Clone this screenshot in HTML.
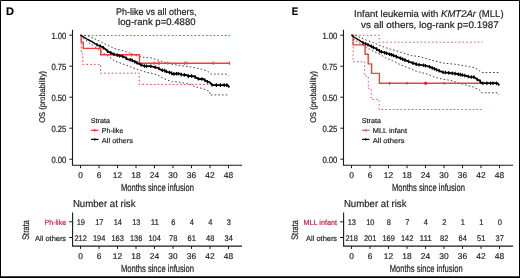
<!DOCTYPE html>
<html><head><meta charset="utf-8"><style>
html,body{margin:0;padding:0;background:#fff;}
body{width:520px;height:278px;overflow:hidden;}
svg{display:block;font-family:"Liberation Sans", sans-serif;text-rendering:geometricPrecision;will-change:transform;}
.w{stroke:#222;stroke-width:0.2px;}
</style></head><body>
<svg width="520" height="278" viewBox="0 0 520 278">
<rect x="0" y="0" width="520" height="278" fill="#fff"/>
<polyline points="80.5,35.5 230.0,35.5" fill="none" stroke="#f04848" stroke-width="1.0" stroke-dasharray="1.7 2.1"/>
<polyline points="81.3,35.2 81.3,53.8 82.8,53.8 82.8,64.4 100.6,64.4 100.6,73.2 139.3,73.2 139.3,84.4 229.0,84.4" fill="none" stroke="#f04848" stroke-width="1.0" stroke-dasharray="1.7 2.1"/>
<polyline points="80.5,35.2 87.7,35.8 94.2,38.5 99.6,41.2 106.0,44.4 113.6,48.2 117.0,49.3 125.8,51.5 136.6,55.8 143.0,57.2 151.0,57.9 158.6,60.2 166.2,62.9 173.7,64.6 181.3,65.6 187.7,66.7 194.7,67.6 201.2,69.2 207.7,71.2 210.9,74.1 227.1,74.1 228.7,75.7" fill="none" stroke="#444" stroke-width="1.0" stroke-dasharray="1.6 2.1"/>
<polyline points="80.5,35.2 84.5,39.0 88.8,42.8 94.2,46.0 98.5,49.8 103.9,53.6 109.3,56.8 114.8,61.1 125.8,65.0 136.6,69.3 147.3,72.5 151.0,73.2 157.5,74.9 161.9,77.5 167.3,80.2 172.6,81.6 178.0,81.9 182.3,82.9 186.7,83.5 189.9,84.2 194.7,86.6 201.2,88.2 206.0,90.0 209.8,91.5 209.8,94.9 227.5,94.9 228.5,96.5" fill="none" stroke="#444" stroke-width="1.0" stroke-dasharray="1.6 2.1"/>
<polyline points="80.5,35.2 81.2,35.2 81.2,42.1 83.3,42.1 83.3,48.4 100.7,48.4 100.7,54.8 139.5,54.8 139.5,63.2 230.0,63.2" fill="none" stroke="#ff3838" stroke-width="1.4"/>
<line x1="131.7" y1="53.199999999999996" x2="131.7" y2="56.4" stroke="#ff3838" stroke-width="1.1"/>
<line x1="154.1" y1="61.6" x2="154.1" y2="64.8" stroke="#ff3838" stroke-width="1.1"/>
<line x1="158.1" y1="61.6" x2="158.1" y2="64.8" stroke="#ff3838" stroke-width="1.1"/>
<line x1="159.2" y1="61.6" x2="159.2" y2="64.8" stroke="#ff3838" stroke-width="1.1"/>
<line x1="167.8" y1="61.6" x2="167.8" y2="64.8" stroke="#ff3838" stroke-width="1.1"/>
<line x1="184.5" y1="61.6" x2="184.5" y2="64.8" stroke="#ff3838" stroke-width="1.1"/>
<line x1="186.7" y1="61.6" x2="186.7" y2="64.8" stroke="#ff3838" stroke-width="1.1"/>
<line x1="213.3" y1="61.6" x2="213.3" y2="64.8" stroke="#ff3838" stroke-width="1.1"/>
<line x1="229.5" y1="61.6" x2="229.5" y2="64.8" stroke="#ff3838" stroke-width="1.1"/>
<polyline points="80.5,35.2 84.5,37.6 87.7,39.5 92.0,41.7 95.3,43.9 98.0,45.2 100.9,46.3" fill="none" stroke="#000" stroke-width="1.45" stroke-linejoin="round"/>
<polyline points="100.9,46.3 103.8,48.1 105.9,49.6 108.1,51.7 111.0,52.8 113.8,54.2 116.7,55.0 119.6,55.7 122.5,56.4 125.3,57.5 127.5,59.2 128.0,59.4 130.9,59.8 133.0,60.8 135.2,61.9 138.1,63.4 140.9,64.8 143.8,65.9 146.7,66.2 149.6,66.1 152.5,66.6 155.3,67.3 158.2,68.0 160.0,69.2 161.7,70.1 164.0,70.3 166.3,71.5 168.7,72.4 171.0,72.7 172.4,74.0 175.0,73.8 179.6,73.6 181.4,74.7 186.5,75.0 188.0,76.1 190.9,75.9 194.5,76.5 196.6,77.9 198.8,79.0 203.1,79.0 205.3,80.4 206.7,81.5 209.6,82.2 211.7,84.7 213.2,85.1 227.6,85.1 229.3,87.6" fill="none" stroke="#000" stroke-width="1.8" stroke-linejoin="round"/>
<path d="M97.0,42.9v3.6 M100.0,44.2v3.6 M103.3,46.0v3.6 M107.6,49.4v3.6 M110.7,50.9v3.6 M113.9,52.4v3.6 M117.2,53.3v3.6 M119.5,53.9v3.6 M122.7,54.7v3.6 M126.2,56.4v3.6 M130.2,57.9v3.6 M132.2,58.6v3.6 M134.8,59.9v3.6 M136.9,61.0v3.6 M140.9,63.0v3.6 M144.5,64.2v3.6 M146.5,64.4v3.6 M150.9,64.5v3.6 M155.3,65.5v3.6 M158.9,66.7v3.6 M162.3,68.4v3.6 M164.6,68.8v3.6 M166.4,69.7v3.6 M169.6,70.7v3.6 M171.6,71.4v3.6 M173.9,72.1v3.6 M176.4,71.9v3.6 M178.2,71.9v3.6 M181.3,72.8v3.6 M184.3,73.1v3.6 M188.4,74.3v3.6 M191.6,74.2v3.6 M195.1,75.1v3.6 M198.2,76.9v3.6 M201.8,77.2v3.6 M204.9,78.3v3.6 M207.4,79.9v3.6 M211.9,83.0v3.6 M216.4,83.3v3.6 M220.5,83.3v3.6 M224.2,83.3v3.6 M226.8,83.3v3.6" stroke="#000" stroke-width="1.2" fill="none"/>
<polyline points="351.5,35.3 379.3,35.3 379.3,42.2 482.5,42.2" fill="none" stroke="#e0607a" stroke-width="1.0" stroke-dasharray="1.7 2.1"/>
<polyline points="353.1,35.2 353.1,61.7 364.7,61.7 364.7,76.0 368.3,76.0 368.3,88.3 371.3,88.3 371.3,99.4 379.2,99.4 379.2,109.5 481.8,109.5" fill="none" stroke="#e0607a" stroke-width="1.0" stroke-dasharray="1.7 2.1"/>
<polyline points="351.5,35.2 355.8,35.4 361.2,38.1 366.6,40.2 373.0,42.4 379.3,45.2 385.8,47.7 392.3,49.7 398.7,51.5 405.2,53.6 411.7,55.6 420.0,56.7 431.5,60.2 443.1,63.1 454.6,64.2 466.1,66.0 474.2,67.7 477.7,69.4 481.5,72.5 498.6,72.5 499.5,73.9" fill="none" stroke="#444" stroke-width="1.0" stroke-dasharray="1.6 2.1"/>
<polyline points="351.5,35.2 354.7,40.2 361.2,44.0 366.6,47.8 373.0,51.0 380.4,54.6 385.8,57.9 392.3,60.6 398.7,63.9 405.2,66.6 411.7,69.3 416.2,71.2 426.9,73.9 435.0,77.3 443.1,79.3 450.0,80.2 464.4,84.7 473.4,87.1 479.7,90.1 481.5,92.8 497.7,92.8 499.0,95.0" fill="none" stroke="#444" stroke-width="1.0" stroke-dasharray="1.6 2.1"/>
<polyline points="351.5,35.2 353.1,35.2 353.1,44.9 365.1,44.9 365.1,54.3 368.2,54.3 368.2,63.9 371.6,63.9 371.6,73.4 379.4,73.4 379.4,83.2 482.0,83.2" fill="none" stroke="#dd4a3a" stroke-width="1.4"/>
<line x1="389.6" y1="81.9" x2="389.6" y2="84.5" stroke="#f02020" stroke-width="1.1"/>
<line x1="407" y1="81.9" x2="407" y2="84.5" stroke="#f02020" stroke-width="1.1"/>
<line x1="444" y1="81.9" x2="444" y2="84.5" stroke="#f02020" stroke-width="1.1"/>
<ellipse cx="425.6" cy="83.2" rx="1.2" ry="1.7" fill="#ff0000"/>
<polyline points="351.5,35.2 354.7,37.5 359.0,40.2 363.3,42.9 367.6,44.6" fill="none" stroke="#000" stroke-width="1.45" stroke-linejoin="round"/>
<polyline points="367.6,44.6 372.0,46.7 375.5,48.3 380.0,51.3 386.3,53.2 392.6,55.1 398.9,57.6 405.2,60.2 411.5,62.7 417.8,64.6 424.1,65.4 430.0,66.9 431.5,67.7 437.3,70.0 443.1,72.3 448.8,72.9 454.6,73.5 460.4,74.6 466.1,75.8 469.6,76.9 474.2,77.1 477.7,79.8 479.7,80.4 481.2,83.2 497.3,83.2 499.3,85.4" fill="none" stroke="#000" stroke-width="1.8" stroke-linejoin="round"/>
<path d="M363.0,40.9v3.6 M365.7,42.0v3.6 M367.9,42.9v3.6 M371.4,44.6v3.6 M373.4,45.6v3.6 M376.7,47.3v3.6 M379.5,49.1v3.6 M381.4,49.9v3.6 M384.6,50.9v3.6 M386.5,51.5v3.6 M389.5,52.4v3.6 M391.5,53.0v3.6 M393.5,53.7v3.6 M396.4,54.8v3.6 M400.5,56.5v3.6 M402.6,57.3v3.6 M405.0,58.3v3.6 M408.5,59.7v3.6 M412.9,61.3v3.6 M416.2,62.3v3.6 M419.1,63.0v3.6 M423.5,63.5v3.6 M425.5,63.9v3.6 M429.6,65.0v3.6 M432.2,66.2v3.6 M434.4,67.0v3.6 M436.5,67.9v3.6 M439.1,68.9v3.6 M443.1,70.5v3.6 M445.4,70.7v3.6 M448.8,71.1v3.6 M452.3,71.5v3.6 M455.1,71.8v3.6 M458.4,72.4v3.6 M460.3,72.8v3.6 M462.3,73.2v3.6 M464.7,73.7v3.6 M468.3,74.7v3.6 M471.3,75.2v3.6 M473.9,75.3v3.6 M477.3,77.7v3.6 M480.3,79.7v3.6 M482.9,81.4v3.6 M486.9,81.4v3.6 M490.5,81.4v3.6 M493.0,81.4v3.6 M496.4,81.4v3.6" stroke="#000" stroke-width="1.2" fill="none"/>
<path d="M72.5,29.7 V165.2 H242" fill="none" stroke="#1a1a1a" stroke-width="1.1"/>
<line x1="69.3" y1="35.2" x2="72.5" y2="35.2" stroke="#1a1a1a" stroke-width="1"/>
<text x="66.4" y="38.5" text-anchor="end" font-size="9.1" fill="#222" class="w" textLength="15.0" lengthAdjust="spacingAndGlyphs">1.00</text>
<line x1="69.3" y1="66.2" x2="72.5" y2="66.2" stroke="#1a1a1a" stroke-width="1"/>
<text x="66.4" y="69.5" text-anchor="end" font-size="9.1" fill="#222" class="w" textLength="15.0" lengthAdjust="spacingAndGlyphs">0.75</text>
<line x1="69.3" y1="97.2" x2="72.5" y2="97.2" stroke="#1a1a1a" stroke-width="1"/>
<text x="66.4" y="100.5" text-anchor="end" font-size="9.1" fill="#222" class="w" textLength="15.0" lengthAdjust="spacingAndGlyphs">0.50</text>
<line x1="69.3" y1="128.2" x2="72.5" y2="128.2" stroke="#1a1a1a" stroke-width="1"/>
<text x="66.4" y="131.5" text-anchor="end" font-size="9.1" fill="#222" class="w" textLength="15.0" lengthAdjust="spacingAndGlyphs">0.25</text>
<line x1="69.3" y1="159.2" x2="72.5" y2="159.2" stroke="#1a1a1a" stroke-width="1"/>
<text x="66.4" y="162.5" text-anchor="end" font-size="9.1" fill="#222" class="w" textLength="15.0" lengthAdjust="spacingAndGlyphs">0.00</text>
<line x1="80.5" y1="165.2" x2="80.5" y2="168.2" stroke="#1a1a1a" stroke-width="1"/>
<text stroke="#222" stroke-width="0.18" x="80.5" y="178.0" text-anchor="middle" font-size="8.4" fill="#222">0</text>
<line x1="99.0" y1="165.2" x2="99.0" y2="168.2" stroke="#1a1a1a" stroke-width="1"/>
<text stroke="#222" stroke-width="0.18" x="99.0" y="178.0" text-anchor="middle" font-size="8.4" fill="#222">6</text>
<line x1="117.5" y1="165.2" x2="117.5" y2="168.2" stroke="#1a1a1a" stroke-width="1"/>
<text stroke="#222" stroke-width="0.18" x="117.5" y="178.0" text-anchor="middle" font-size="8.4" fill="#222">12</text>
<line x1="136.0" y1="165.2" x2="136.0" y2="168.2" stroke="#1a1a1a" stroke-width="1"/>
<text stroke="#222" stroke-width="0.18" x="136.0" y="178.0" text-anchor="middle" font-size="8.4" fill="#222">18</text>
<line x1="154.5" y1="165.2" x2="154.5" y2="168.2" stroke="#1a1a1a" stroke-width="1"/>
<text stroke="#222" stroke-width="0.18" x="154.5" y="178.0" text-anchor="middle" font-size="8.4" fill="#222">24</text>
<line x1="173.0" y1="165.2" x2="173.0" y2="168.2" stroke="#1a1a1a" stroke-width="1"/>
<text stroke="#222" stroke-width="0.18" x="173.0" y="178.0" text-anchor="middle" font-size="8.4" fill="#222">30</text>
<line x1="191.5" y1="165.2" x2="191.5" y2="168.2" stroke="#1a1a1a" stroke-width="1"/>
<text stroke="#222" stroke-width="0.18" x="191.5" y="178.0" text-anchor="middle" font-size="8.4" fill="#222">36</text>
<line x1="210.0" y1="165.2" x2="210.0" y2="168.2" stroke="#1a1a1a" stroke-width="1"/>
<text stroke="#222" stroke-width="0.18" x="210.0" y="178.0" text-anchor="middle" font-size="8.4" fill="#222">42</text>
<line x1="228.5" y1="165.2" x2="228.5" y2="168.2" stroke="#1a1a1a" stroke-width="1"/>
<text stroke="#222" stroke-width="0.18" x="228.5" y="178.0" text-anchor="middle" font-size="8.4" fill="#222">48</text>
<text x="157.4" y="190.8" text-anchor="middle" font-size="10.3" fill="#222" class="w" textLength="73" lengthAdjust="spacingAndGlyphs">Months since infusion</text>
<text transform="translate(44.9,96.8) rotate(-90)" text-anchor="middle" font-size="8.4" fill="#222" class="w" textLength="51.8" lengthAdjust="spacingAndGlyphs">OS (probability)</text>
<text stroke="#222" stroke-width="0.18" x="115.9" y="14.6" font-size="9.7" fill="#222" textLength="80.6" lengthAdjust="spacingAndGlyphs">Ph-like vs all others,</text>
<text stroke="#222" stroke-width="0.18" x="118.1" y="25.0" font-size="9.7" fill="#222" textLength="77.5" lengthAdjust="spacingAndGlyphs">log-rank p=0.4880</text>
<text stroke="#000" stroke-width="0.18" x="6" y="14.8" font-size="11" font-weight="bold" fill="#000" textLength="8" lengthAdjust="spacingAndGlyphs">D</text>
<text stroke="#222" stroke-width="0.18" x="90.8" y="123.3" font-size="7" fill="#222" textLength="19.1" lengthAdjust="spacingAndGlyphs">Strata</text>
<line x1="91.1" y1="130.3" x2="98.5" y2="130.3" stroke="#ff2020" stroke-width="1.2"/>
<line x1="94.8" y1="129" x2="94.8" y2="131.6" stroke="#ff2020" stroke-width="1"/>
<line x1="91.1" y1="139.4" x2="98.5" y2="139.4" stroke="#000" stroke-width="1.2"/>
<line x1="94.8" y1="138.1" x2="94.8" y2="140.7" stroke="#000" stroke-width="1"/>
<text stroke="#222" stroke-width="0.18" x="101.8" y="133.3" font-size="7" fill="#222" textLength="21.5" lengthAdjust="spacingAndGlyphs">Ph-like</text>
<text stroke="#222" stroke-width="0.18" x="101.8" y="142.6" font-size="7" fill="#222" textLength="31.1" lengthAdjust="spacingAndGlyphs">All others</text>
<text stroke="#222" stroke-width="0.18" x="72.9" y="206.8" font-size="10.2" fill="#222" textLength="62.6" lengthAdjust="spacingAndGlyphs">Number at risk</text>
<path d="M72.6,212.5 V246.1 H242.1" fill="none" stroke="#1a1a1a" stroke-width="1.1"/>
<line x1="69.1" y1="221.8" x2="72.5" y2="221.8" stroke="#1a1a1a" stroke-width="1"/>
<line x1="69.1" y1="237.5" x2="72.5" y2="237.5" stroke="#1a1a1a" stroke-width="1"/>
<line x1="80.5" y1="246.1" x2="80.5" y2="248.9" stroke="#1a1a1a" stroke-width="1"/>
<text stroke="#222" stroke-width="0.18" x="80.5" y="259.0" text-anchor="middle" font-size="8.4" fill="#222">0</text>
<text stroke="#222" stroke-width="0.18" x="80.8" y="224.7" text-anchor="middle" font-size="8.2" fill="#222" textLength="8.30" lengthAdjust="spacingAndGlyphs">19</text>
<text stroke="#222" stroke-width="0.18" x="80.7" y="240.6" text-anchor="middle" font-size="8.2" fill="#222" textLength="12.45" lengthAdjust="spacingAndGlyphs">212</text>
<line x1="99.0" y1="246.1" x2="99.0" y2="248.9" stroke="#1a1a1a" stroke-width="1"/>
<text stroke="#222" stroke-width="0.18" x="99.0" y="259.0" text-anchor="middle" font-size="8.4" fill="#222">6</text>
<text stroke="#222" stroke-width="0.18" x="99.3" y="224.7" text-anchor="middle" font-size="8.2" fill="#222" textLength="8.30" lengthAdjust="spacingAndGlyphs">17</text>
<text stroke="#222" stroke-width="0.18" x="99.2" y="240.6" text-anchor="middle" font-size="8.2" fill="#222" textLength="12.45" lengthAdjust="spacingAndGlyphs">194</text>
<line x1="117.5" y1="246.1" x2="117.5" y2="248.9" stroke="#1a1a1a" stroke-width="1"/>
<text stroke="#222" stroke-width="0.18" x="117.5" y="259.0" text-anchor="middle" font-size="8.4" fill="#222">12</text>
<text stroke="#222" stroke-width="0.18" x="117.8" y="224.7" text-anchor="middle" font-size="8.2" fill="#222" textLength="8.30" lengthAdjust="spacingAndGlyphs">14</text>
<text stroke="#222" stroke-width="0.18" x="117.7" y="240.6" text-anchor="middle" font-size="8.2" fill="#222" textLength="12.45" lengthAdjust="spacingAndGlyphs">163</text>
<line x1="136.0" y1="246.1" x2="136.0" y2="248.9" stroke="#1a1a1a" stroke-width="1"/>
<text stroke="#222" stroke-width="0.18" x="136.0" y="259.0" text-anchor="middle" font-size="8.4" fill="#222">18</text>
<text stroke="#222" stroke-width="0.18" x="136.3" y="224.7" text-anchor="middle" font-size="8.2" fill="#222" textLength="8.30" lengthAdjust="spacingAndGlyphs">13</text>
<text stroke="#222" stroke-width="0.18" x="136.2" y="240.6" text-anchor="middle" font-size="8.2" fill="#222" textLength="12.45" lengthAdjust="spacingAndGlyphs">136</text>
<line x1="154.5" y1="246.1" x2="154.5" y2="248.9" stroke="#1a1a1a" stroke-width="1"/>
<text stroke="#222" stroke-width="0.18" x="154.5" y="259.0" text-anchor="middle" font-size="8.4" fill="#222">24</text>
<text stroke="#222" stroke-width="0.18" x="154.8" y="224.7" text-anchor="middle" font-size="8.2" fill="#222" textLength="8.30" lengthAdjust="spacingAndGlyphs">11</text>
<text stroke="#222" stroke-width="0.18" x="154.7" y="240.6" text-anchor="middle" font-size="8.2" fill="#222" textLength="12.45" lengthAdjust="spacingAndGlyphs">104</text>
<line x1="173.0" y1="246.1" x2="173.0" y2="248.9" stroke="#1a1a1a" stroke-width="1"/>
<text stroke="#222" stroke-width="0.18" x="173.0" y="259.0" text-anchor="middle" font-size="8.4" fill="#222">30</text>
<text stroke="#222" stroke-width="0.18" x="173.3" y="224.7" text-anchor="middle" font-size="8.2" fill="#222" textLength="4.15" lengthAdjust="spacingAndGlyphs">6</text>
<text stroke="#222" stroke-width="0.18" x="173.2" y="240.6" text-anchor="middle" font-size="8.2" fill="#222" textLength="8.30" lengthAdjust="spacingAndGlyphs">78</text>
<line x1="191.5" y1="246.1" x2="191.5" y2="248.9" stroke="#1a1a1a" stroke-width="1"/>
<text stroke="#222" stroke-width="0.18" x="191.5" y="259.0" text-anchor="middle" font-size="8.4" fill="#222">36</text>
<text stroke="#222" stroke-width="0.18" x="191.8" y="224.7" text-anchor="middle" font-size="8.2" fill="#222" textLength="4.15" lengthAdjust="spacingAndGlyphs">4</text>
<text stroke="#222" stroke-width="0.18" x="191.7" y="240.6" text-anchor="middle" font-size="8.2" fill="#222" textLength="8.30" lengthAdjust="spacingAndGlyphs">61</text>
<line x1="210.0" y1="246.1" x2="210.0" y2="248.9" stroke="#1a1a1a" stroke-width="1"/>
<text stroke="#222" stroke-width="0.18" x="210.0" y="259.0" text-anchor="middle" font-size="8.4" fill="#222">42</text>
<text stroke="#222" stroke-width="0.18" x="210.3" y="224.7" text-anchor="middle" font-size="8.2" fill="#222" textLength="4.15" lengthAdjust="spacingAndGlyphs">4</text>
<text stroke="#222" stroke-width="0.18" x="210.2" y="240.6" text-anchor="middle" font-size="8.2" fill="#222" textLength="8.30" lengthAdjust="spacingAndGlyphs">48</text>
<line x1="228.5" y1="246.1" x2="228.5" y2="248.9" stroke="#1a1a1a" stroke-width="1"/>
<text stroke="#222" stroke-width="0.18" x="228.5" y="259.0" text-anchor="middle" font-size="8.4" fill="#222">48</text>
<text stroke="#222" stroke-width="0.18" x="228.8" y="224.7" text-anchor="middle" font-size="8.2" fill="#222" textLength="4.15" lengthAdjust="spacingAndGlyphs">3</text>
<text stroke="#222" stroke-width="0.18" x="228.7" y="240.6" text-anchor="middle" font-size="8.2" fill="#222" textLength="8.30" lengthAdjust="spacingAndGlyphs">34</text>
<text stroke="#c81c40" stroke-width="0.18" x="66.1" y="225.0" text-anchor="end" font-size="7.6" fill="#c81c40" textLength="21.5" lengthAdjust="spacingAndGlyphs">Ph-like</text>
<text stroke="#222" stroke-width="0.18" x="66.1" y="240.8" text-anchor="end" font-size="7.6" fill="#222" textLength="31" lengthAdjust="spacingAndGlyphs">All others</text>
<text x="157.4" y="271.5" text-anchor="middle" font-size="10.3" fill="#222" class="w" textLength="73" lengthAdjust="spacingAndGlyphs">Months since infusion</text>
<text transform="translate(28.6,230.0) rotate(-90)" text-anchor="middle" font-size="9.6" fill="#222" class="w" textLength="19.6" lengthAdjust="spacingAndGlyphs">Strata</text>
<path d="M343.5,29.7 V165.2 H513" fill="none" stroke="#1a1a1a" stroke-width="1.1"/>
<line x1="340.3" y1="35.2" x2="343.5" y2="35.2" stroke="#1a1a1a" stroke-width="1"/>
<text x="337.4" y="38.5" text-anchor="end" font-size="9.1" fill="#222" class="w" textLength="15.0" lengthAdjust="spacingAndGlyphs">1.00</text>
<line x1="340.3" y1="66.2" x2="343.5" y2="66.2" stroke="#1a1a1a" stroke-width="1"/>
<text x="337.4" y="69.5" text-anchor="end" font-size="9.1" fill="#222" class="w" textLength="15.0" lengthAdjust="spacingAndGlyphs">0.75</text>
<line x1="340.3" y1="97.2" x2="343.5" y2="97.2" stroke="#1a1a1a" stroke-width="1"/>
<text x="337.4" y="100.5" text-anchor="end" font-size="9.1" fill="#222" class="w" textLength="15.0" lengthAdjust="spacingAndGlyphs">0.50</text>
<line x1="340.3" y1="128.2" x2="343.5" y2="128.2" stroke="#1a1a1a" stroke-width="1"/>
<text x="337.4" y="131.5" text-anchor="end" font-size="9.1" fill="#222" class="w" textLength="15.0" lengthAdjust="spacingAndGlyphs">0.25</text>
<line x1="340.3" y1="159.2" x2="343.5" y2="159.2" stroke="#1a1a1a" stroke-width="1"/>
<text x="337.4" y="162.5" text-anchor="end" font-size="9.1" fill="#222" class="w" textLength="15.0" lengthAdjust="spacingAndGlyphs">0.00</text>
<line x1="351.5" y1="165.2" x2="351.5" y2="168.2" stroke="#1a1a1a" stroke-width="1"/>
<text stroke="#222" stroke-width="0.18" x="351.5" y="178.0" text-anchor="middle" font-size="8.4" fill="#222">0</text>
<line x1="370.0" y1="165.2" x2="370.0" y2="168.2" stroke="#1a1a1a" stroke-width="1"/>
<text stroke="#222" stroke-width="0.18" x="370.0" y="178.0" text-anchor="middle" font-size="8.4" fill="#222">6</text>
<line x1="388.5" y1="165.2" x2="388.5" y2="168.2" stroke="#1a1a1a" stroke-width="1"/>
<text stroke="#222" stroke-width="0.18" x="388.5" y="178.0" text-anchor="middle" font-size="8.4" fill="#222">12</text>
<line x1="407.0" y1="165.2" x2="407.0" y2="168.2" stroke="#1a1a1a" stroke-width="1"/>
<text stroke="#222" stroke-width="0.18" x="407.0" y="178.0" text-anchor="middle" font-size="8.4" fill="#222">18</text>
<line x1="425.5" y1="165.2" x2="425.5" y2="168.2" stroke="#1a1a1a" stroke-width="1"/>
<text stroke="#222" stroke-width="0.18" x="425.5" y="178.0" text-anchor="middle" font-size="8.4" fill="#222">24</text>
<line x1="444.0" y1="165.2" x2="444.0" y2="168.2" stroke="#1a1a1a" stroke-width="1"/>
<text stroke="#222" stroke-width="0.18" x="444.0" y="178.0" text-anchor="middle" font-size="8.4" fill="#222">30</text>
<line x1="462.5" y1="165.2" x2="462.5" y2="168.2" stroke="#1a1a1a" stroke-width="1"/>
<text stroke="#222" stroke-width="0.18" x="462.5" y="178.0" text-anchor="middle" font-size="8.4" fill="#222">36</text>
<line x1="481.0" y1="165.2" x2="481.0" y2="168.2" stroke="#1a1a1a" stroke-width="1"/>
<text stroke="#222" stroke-width="0.18" x="481.0" y="178.0" text-anchor="middle" font-size="8.4" fill="#222">42</text>
<line x1="499.5" y1="165.2" x2="499.5" y2="168.2" stroke="#1a1a1a" stroke-width="1"/>
<text stroke="#222" stroke-width="0.18" x="499.5" y="178.0" text-anchor="middle" font-size="8.4" fill="#222">48</text>
<text x="428.4" y="190.8" text-anchor="middle" font-size="10.3" fill="#222" class="w" textLength="73" lengthAdjust="spacingAndGlyphs">Months since infusion</text>
<text transform="translate(315.9,96.8) rotate(-90)" text-anchor="middle" font-size="8.4" fill="#222" class="w" textLength="51.8" lengthAdjust="spacingAndGlyphs">OS (probability)</text>
<text stroke="#222" stroke-width="0.18" x="354.1" y="17.3" font-size="9.7" fill="#222" textLength="149.5" lengthAdjust="spacingAndGlyphs">Infant leukemia with <tspan font-style="italic">KMT2Ar</tspan> (MLL)</text>
<text stroke="#222" stroke-width="0.18" x="361.1" y="28.4" font-size="9.7" fill="#222" textLength="137.6" lengthAdjust="spacingAndGlyphs">vs all others, log-rank p=0.1987</text>
<text stroke="#000" stroke-width="0.18" x="291.8" y="14.8" font-size="11" font-weight="bold" fill="#000" textLength="6.4" lengthAdjust="spacingAndGlyphs">E</text>
<text stroke="#222" stroke-width="0.18" x="361.8" y="123.3" font-size="7" fill="#222" textLength="19.1" lengthAdjust="spacingAndGlyphs">Strata</text>
<line x1="362.1" y1="130.3" x2="369.5" y2="130.3" stroke="#e85050" stroke-width="1.2"/>
<line x1="365.8" y1="129" x2="365.8" y2="131.6" stroke="#e85050" stroke-width="1"/>
<line x1="362.1" y1="139.4" x2="369.5" y2="139.4" stroke="#000" stroke-width="1.2"/>
<line x1="365.8" y1="138.1" x2="365.8" y2="140.7" stroke="#000" stroke-width="1"/>
<text stroke="#222" stroke-width="0.18" x="372.8" y="133.3" font-size="7" fill="#222" textLength="34.2" lengthAdjust="spacingAndGlyphs">MLL infant</text>
<text stroke="#222" stroke-width="0.18" x="372.8" y="142.6" font-size="7" fill="#222" textLength="31.7" lengthAdjust="spacingAndGlyphs">All others</text>
<text stroke="#222" stroke-width="0.18" x="343.9" y="206.8" font-size="10.2" fill="#222" textLength="62.6" lengthAdjust="spacingAndGlyphs">Number at risk</text>
<path d="M343.6,212.5 V246.1 H513.1" fill="none" stroke="#1a1a1a" stroke-width="1.1"/>
<line x1="340.1" y1="221.8" x2="343.5" y2="221.8" stroke="#1a1a1a" stroke-width="1"/>
<line x1="340.1" y1="237.5" x2="343.5" y2="237.5" stroke="#1a1a1a" stroke-width="1"/>
<line x1="351.5" y1="246.1" x2="351.5" y2="248.9" stroke="#1a1a1a" stroke-width="1"/>
<text stroke="#222" stroke-width="0.18" x="351.5" y="259.0" text-anchor="middle" font-size="8.4" fill="#222">0</text>
<text stroke="#222" stroke-width="0.18" x="351.8" y="224.7" text-anchor="middle" font-size="8.2" fill="#222" textLength="8.30" lengthAdjust="spacingAndGlyphs">13</text>
<text stroke="#222" stroke-width="0.18" x="351.7" y="240.6" text-anchor="middle" font-size="8.2" fill="#222" textLength="12.45" lengthAdjust="spacingAndGlyphs">218</text>
<line x1="370.0" y1="246.1" x2="370.0" y2="248.9" stroke="#1a1a1a" stroke-width="1"/>
<text stroke="#222" stroke-width="0.18" x="370.0" y="259.0" text-anchor="middle" font-size="8.4" fill="#222">6</text>
<text stroke="#222" stroke-width="0.18" x="370.3" y="224.7" text-anchor="middle" font-size="8.2" fill="#222" textLength="8.30" lengthAdjust="spacingAndGlyphs">10</text>
<text stroke="#222" stroke-width="0.18" x="370.2" y="240.6" text-anchor="middle" font-size="8.2" fill="#222" textLength="12.45" lengthAdjust="spacingAndGlyphs">201</text>
<line x1="388.5" y1="246.1" x2="388.5" y2="248.9" stroke="#1a1a1a" stroke-width="1"/>
<text stroke="#222" stroke-width="0.18" x="388.5" y="259.0" text-anchor="middle" font-size="8.4" fill="#222">12</text>
<text stroke="#222" stroke-width="0.18" x="388.8" y="224.7" text-anchor="middle" font-size="8.2" fill="#222" textLength="4.15" lengthAdjust="spacingAndGlyphs">8</text>
<text stroke="#222" stroke-width="0.18" x="388.7" y="240.6" text-anchor="middle" font-size="8.2" fill="#222" textLength="12.45" lengthAdjust="spacingAndGlyphs">169</text>
<line x1="407.0" y1="246.1" x2="407.0" y2="248.9" stroke="#1a1a1a" stroke-width="1"/>
<text stroke="#222" stroke-width="0.18" x="407.0" y="259.0" text-anchor="middle" font-size="8.4" fill="#222">18</text>
<text stroke="#222" stroke-width="0.18" x="407.3" y="224.7" text-anchor="middle" font-size="8.2" fill="#222" textLength="4.15" lengthAdjust="spacingAndGlyphs">7</text>
<text stroke="#222" stroke-width="0.18" x="407.2" y="240.6" text-anchor="middle" font-size="8.2" fill="#222" textLength="12.45" lengthAdjust="spacingAndGlyphs">142</text>
<line x1="425.5" y1="246.1" x2="425.5" y2="248.9" stroke="#1a1a1a" stroke-width="1"/>
<text stroke="#222" stroke-width="0.18" x="425.5" y="259.0" text-anchor="middle" font-size="8.4" fill="#222">24</text>
<text stroke="#222" stroke-width="0.18" x="425.8" y="224.7" text-anchor="middle" font-size="8.2" fill="#222" textLength="4.15" lengthAdjust="spacingAndGlyphs">4</text>
<text stroke="#222" stroke-width="0.18" x="425.7" y="240.6" text-anchor="middle" font-size="8.2" fill="#222" textLength="12.45" lengthAdjust="spacingAndGlyphs">111</text>
<line x1="444.0" y1="246.1" x2="444.0" y2="248.9" stroke="#1a1a1a" stroke-width="1"/>
<text stroke="#222" stroke-width="0.18" x="444.0" y="259.0" text-anchor="middle" font-size="8.4" fill="#222">30</text>
<text stroke="#222" stroke-width="0.18" x="444.3" y="224.7" text-anchor="middle" font-size="8.2" fill="#222" textLength="4.15" lengthAdjust="spacingAndGlyphs">2</text>
<text stroke="#222" stroke-width="0.18" x="444.2" y="240.6" text-anchor="middle" font-size="8.2" fill="#222" textLength="8.30" lengthAdjust="spacingAndGlyphs">82</text>
<line x1="462.5" y1="246.1" x2="462.5" y2="248.9" stroke="#1a1a1a" stroke-width="1"/>
<text stroke="#222" stroke-width="0.18" x="462.5" y="259.0" text-anchor="middle" font-size="8.4" fill="#222">36</text>
<text stroke="#222" stroke-width="0.18" x="462.8" y="224.7" text-anchor="middle" font-size="8.2" fill="#222" textLength="4.15" lengthAdjust="spacingAndGlyphs">1</text>
<text stroke="#222" stroke-width="0.18" x="462.7" y="240.6" text-anchor="middle" font-size="8.2" fill="#222" textLength="8.30" lengthAdjust="spacingAndGlyphs">64</text>
<line x1="481.0" y1="246.1" x2="481.0" y2="248.9" stroke="#1a1a1a" stroke-width="1"/>
<text stroke="#222" stroke-width="0.18" x="481.0" y="259.0" text-anchor="middle" font-size="8.4" fill="#222">42</text>
<text stroke="#222" stroke-width="0.18" x="481.3" y="224.7" text-anchor="middle" font-size="8.2" fill="#222" textLength="4.15" lengthAdjust="spacingAndGlyphs">1</text>
<text stroke="#222" stroke-width="0.18" x="481.2" y="240.6" text-anchor="middle" font-size="8.2" fill="#222" textLength="8.30" lengthAdjust="spacingAndGlyphs">51</text>
<line x1="499.5" y1="246.1" x2="499.5" y2="248.9" stroke="#1a1a1a" stroke-width="1"/>
<text stroke="#222" stroke-width="0.18" x="499.5" y="259.0" text-anchor="middle" font-size="8.4" fill="#222">48</text>
<text stroke="#222" stroke-width="0.18" x="499.8" y="224.7" text-anchor="middle" font-size="8.2" fill="#222" textLength="4.15" lengthAdjust="spacingAndGlyphs">0</text>
<text stroke="#222" stroke-width="0.18" x="499.7" y="240.6" text-anchor="middle" font-size="8.2" fill="#222" textLength="8.30" lengthAdjust="spacingAndGlyphs">37</text>
<text stroke="#c81c40" stroke-width="0.18" x="337.1" y="225.0" text-anchor="end" font-size="7.6" fill="#c81c40" textLength="33.6" lengthAdjust="spacingAndGlyphs">MLL infant</text>
<text stroke="#222" stroke-width="0.18" x="337.1" y="240.8" text-anchor="end" font-size="7.6" fill="#222" textLength="31" lengthAdjust="spacingAndGlyphs">All others</text>
<text x="426.2" y="271.5" text-anchor="middle" font-size="10.3" fill="#222" class="w" textLength="73" lengthAdjust="spacingAndGlyphs">Months since infusion</text>
<text transform="translate(298.4,230.0) rotate(-90)" text-anchor="middle" font-size="9.6" fill="#222" class="w" textLength="19.6" lengthAdjust="spacingAndGlyphs">Strata</text>
<path d="M0.5,0.5 H519.5 V277 H0.5 Z" fill="none" stroke="#000" stroke-width="1"/>
<line x1="0" y1="277.3" x2="520" y2="277.3" stroke="#000" stroke-width="1.4"/>
</svg>
</body></html>
